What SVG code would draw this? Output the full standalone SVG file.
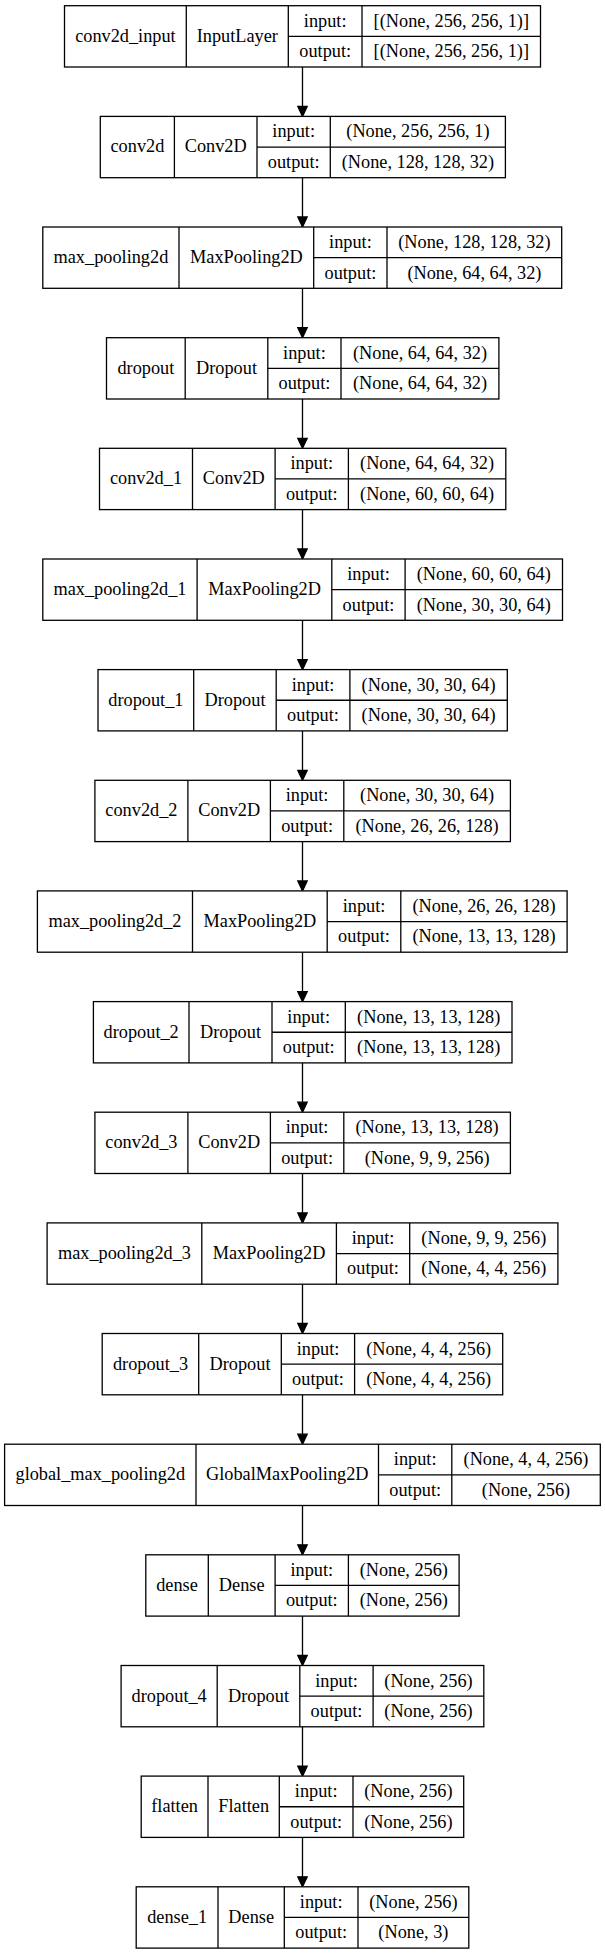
<svg xmlns="http://www.w3.org/2000/svg" width="605" height="1955" viewBox="0 0 605 1955">
<style>
rect.b{fill:#fff;stroke:#000;stroke-width:1.3}
line.d{stroke:#000;stroke-width:1.3}
text{font-family:"Liberation Serif","Times New Roman",serif;font-size:18.3px;fill:#000;text-anchor:middle}
.e line{stroke:#000;stroke-width:1.3}
.e polygon{fill:#000;stroke:#000;stroke-width:1.3}
</style>
<rect width="605" height="1955" fill="#fff"/>
<g id="connectors" class="e">
<line x1="302.5" y1="67" x2="302.5" y2="106.4"/><polygon points="302.5,116.4 297.8,106.4 307.2,106.4"/>
<line x1="302.5" y1="177.7" x2="302.5" y2="217"/><polygon points="302.5,227 297.8,217 307.2,217"/>
<line x1="302.5" y1="288.3" x2="302.5" y2="327.7"/><polygon points="302.5,337.7 297.8,327.7 307.2,327.7"/>
<line x1="302.5" y1="399" x2="302.5" y2="438.3"/><polygon points="302.5,448.3 297.8,438.3 307.2,438.3"/>
<line x1="302.5" y1="509.6" x2="302.5" y2="549"/><polygon points="302.5,559 297.8,549 307.2,549"/>
<line x1="302.5" y1="620.3" x2="302.5" y2="659.6"/><polygon points="302.5,669.6 297.8,659.6 307.2,659.6"/>
<line x1="302.5" y1="730.9" x2="302.5" y2="770.3"/><polygon points="302.5,780.3 297.8,770.3 307.2,770.3"/>
<line x1="302.5" y1="841.6" x2="302.5" y2="880.9"/><polygon points="302.5,890.9 297.8,880.9 307.2,880.9"/>
<line x1="302.5" y1="952.2" x2="302.5" y2="991.6"/><polygon points="302.5,1001.6 297.8,991.6 307.2,991.6"/>
<line x1="302.5" y1="1062.9" x2="302.5" y2="1102.2"/><polygon points="302.5,1112.2 297.8,1102.2 307.2,1102.2"/>
<line x1="302.5" y1="1173.5" x2="302.5" y2="1212.9"/><polygon points="302.5,1222.9 297.8,1212.9 307.2,1212.9"/>
<line x1="302.5" y1="1284.2" x2="302.5" y2="1323.5"/><polygon points="302.5,1333.5 297.8,1323.5 307.2,1323.5"/>
<line x1="302.5" y1="1394.8" x2="302.5" y2="1434.2"/><polygon points="302.5,1444.2 297.8,1434.2 307.2,1434.2"/>
<line x1="302.5" y1="1505.5" x2="302.5" y2="1544.8"/><polygon points="302.5,1554.8 297.8,1544.8 307.2,1544.8"/>
<line x1="302.5" y1="1616.1" x2="302.5" y2="1655.5"/><polygon points="302.5,1665.5 297.8,1655.5 307.2,1655.5"/>
<line x1="302.5" y1="1726.8" x2="302.5" y2="1766.1"/><polygon points="302.5,1776.1 297.8,1766.1 307.2,1766.1"/>
<line x1="302.5" y1="1837.4" x2="302.5" y2="1876.8"/><polygon points="302.5,1886.8 297.8,1876.8 307.2,1876.8"/>
</g>

<g id="conv2d_input" transform="translate(0,5.7)">
<rect class="b" x="64.5" y="0" width="476" height="61.3"/>
<line class="d" x1="186.3" y1="0" x2="186.3" y2="61.3"/><line class="d" x1="288.3" y1="0" x2="288.3" y2="61.3"/><line class="d" x1="362" y1="0" x2="362" y2="61.3"/><line class="d" x1="288.3" y1="30.65" x2="540.5" y2="30.65"/>
<text x="125.4" y="36">conv2d_input</text><text x="237.3" y="36">InputLayer</text>
<text x="325.2" y="21">input:</text><text x="325.2" y="51.6">output:</text>
<text x="451.3" y="21">[(None, 256, 256, 1)]</text><text x="451.3" y="51.6">[(None, 256, 256, 1)]</text>
</g>

<g id="conv2d" transform="translate(0,116.4)">
<rect class="b" x="100.3" y="0" width="405.1" height="61.3"/>
<line class="d" x1="174.4" y1="0" x2="174.4" y2="61.3"/><line class="d" x1="257" y1="0" x2="257" y2="61.3"/><line class="d" x1="330.3" y1="0" x2="330.3" y2="61.3"/><line class="d" x1="257" y1="30.65" x2="505.4" y2="30.65"/>
<text x="137.4" y="36">conv2d</text><text x="215.7" y="36">Conv2D</text>
<text x="293.7" y="21">input:</text><text x="293.7" y="51.6">output:</text>
<text x="417.9" y="21">(None, 256, 256, 1)</text><text x="417.9" y="51.6">(None, 128, 128, 32)</text>
</g>

<g id="max_pooling2d" transform="translate(0,227)">
<rect class="b" x="42.8" y="0" width="518.9" height="61.3"/>
<line class="d" x1="179" y1="0" x2="179" y2="61.3"/><line class="d" x1="313.7" y1="0" x2="313.7" y2="61.3"/><line class="d" x1="387" y1="0" x2="387" y2="61.3"/><line class="d" x1="313.7" y1="30.65" x2="561.7" y2="30.65"/>
<text x="110.9" y="36">max_pooling2d</text><text x="246.4" y="36">MaxPooling2D</text>
<text x="350.4" y="21">input:</text><text x="350.4" y="51.6">output:</text>
<text x="474.4" y="21">(None, 128, 128, 32)</text><text x="474.4" y="51.6">(None, 64, 64, 32)</text>
</g>

<g id="dropout" transform="translate(0,337.7)">
<rect class="b" x="106.5" y="0" width="392.4" height="61.3"/>
<line class="d" x1="185.2" y1="0" x2="185.2" y2="61.3"/><line class="d" x1="267.8" y1="0" x2="267.8" y2="61.3"/><line class="d" x1="341" y1="0" x2="341" y2="61.3"/><line class="d" x1="267.8" y1="30.65" x2="498.9" y2="30.65"/>
<text x="145.9" y="36">dropout</text><text x="226.5" y="36">Dropout</text>
<text x="304.4" y="21">input:</text><text x="304.4" y="51.6">output:</text>
<text x="420" y="21">(None, 64, 64, 32)</text><text x="420" y="51.6">(None, 64, 64, 32)</text>
</g>

<g id="conv2d_1" transform="translate(0,448.3)">
<rect class="b" x="99.5" y="0" width="406.3" height="61.3"/>
<line class="d" x1="192.5" y1="0" x2="192.5" y2="61.3"/><line class="d" x1="275.1" y1="0" x2="275.1" y2="61.3"/><line class="d" x1="348.4" y1="0" x2="348.4" y2="61.3"/><line class="d" x1="275.1" y1="30.65" x2="505.8" y2="30.65"/>
<text x="146" y="36">conv2d_1</text><text x="233.8" y="36">Conv2D</text>
<text x="311.8" y="21">input:</text><text x="311.8" y="51.6">output:</text>
<text x="427.1" y="21">(None, 64, 64, 32)</text><text x="427.1" y="51.6">(None, 60, 60, 64)</text>
</g>

<g id="max_pooling2d_1" transform="translate(0,559)">
<rect class="b" x="42.8" y="0" width="519.7" height="61.3"/>
<line class="d" x1="197.1" y1="0" x2="197.1" y2="61.3"/><line class="d" x1="331.8" y1="0" x2="331.8" y2="61.3"/><line class="d" x1="405.1" y1="0" x2="405.1" y2="61.3"/><line class="d" x1="331.8" y1="30.65" x2="562.5" y2="30.65"/>
<text x="120" y="36">max_pooling2d_1</text><text x="264.5" y="36">MaxPooling2D</text>
<text x="368.5" y="21">input:</text><text x="368.5" y="51.6">output:</text>
<text x="483.8" y="21">(None, 60, 60, 64)</text><text x="483.8" y="51.6">(None, 30, 30, 64)</text>
</g>

<g id="dropout_1" transform="translate(0,669.6)">
<rect class="b" x="98" y="0" width="409.3" height="61.3"/>
<line class="d" x1="193.7" y1="0" x2="193.7" y2="61.3"/><line class="d" x1="276.2" y1="0" x2="276.2" y2="61.3"/><line class="d" x1="349.9" y1="0" x2="349.9" y2="61.3"/><line class="d" x1="276.2" y1="30.65" x2="507.3" y2="30.65"/>
<text x="145.9" y="36">dropout_1</text><text x="235" y="36">Dropout</text>
<text x="313" y="21">input:</text><text x="313" y="51.6">output:</text>
<text x="428.6" y="21">(None, 30, 30, 64)</text><text x="428.6" y="51.6">(None, 30, 30, 64)</text>
</g>

<g id="conv2d_2" transform="translate(0,780.3)">
<rect class="b" x="94.9" y="0" width="415.5" height="61.3"/>
<line class="d" x1="187.9" y1="0" x2="187.9" y2="61.3"/><line class="d" x1="270.4" y1="0" x2="270.4" y2="61.3"/><line class="d" x1="343.8" y1="0" x2="343.8" y2="61.3"/><line class="d" x1="270.4" y1="30.65" x2="510.4" y2="30.65"/>
<text x="141.4" y="36">conv2d_2</text><text x="229.2" y="36">Conv2D</text>
<text x="307.1" y="21">input:</text><text x="307.1" y="51.6">output:</text>
<text x="427.1" y="21">(None, 30, 30, 64)</text><text x="427.1" y="51.6">(None, 26, 26, 128)</text>
</g>

<g id="max_pooling2d_2" transform="translate(0,890.9)">
<rect class="b" x="37.4" y="0" width="529.7" height="61.3"/>
<line class="d" x1="192.5" y1="0" x2="192.5" y2="61.3"/><line class="d" x1="327.2" y1="0" x2="327.2" y2="61.3"/><line class="d" x1="400.8" y1="0" x2="400.8" y2="61.3"/><line class="d" x1="327.2" y1="30.65" x2="567.1" y2="30.65"/>
<text x="115" y="36">max_pooling2d_2</text><text x="259.9" y="36">MaxPooling2D</text>
<text x="364" y="21">input:</text><text x="364" y="51.6">output:</text>
<text x="484" y="21">(None, 26, 26, 128)</text><text x="484" y="51.6">(None, 13, 13, 128)</text>
</g>

<g id="dropout_2" transform="translate(0,1001.6)">
<rect class="b" x="93.4" y="0" width="418.6" height="61.3"/>
<line class="d" x1="189" y1="0" x2="189" y2="61.3"/><line class="d" x1="272" y1="0" x2="272" y2="61.3"/><line class="d" x1="345.3" y1="0" x2="345.3" y2="61.3"/><line class="d" x1="272" y1="30.65" x2="512" y2="30.65"/>
<text x="141.2" y="36">dropout_2</text><text x="230.5" y="36">Dropout</text>
<text x="308.7" y="21">input:</text><text x="308.7" y="51.6">output:</text>
<text x="428.7" y="21">(None, 13, 13, 128)</text><text x="428.7" y="51.6">(None, 13, 13, 128)</text>
</g>

<g id="conv2d_3" transform="translate(0,1112.2)">
<rect class="b" x="94.9" y="0" width="415.5" height="61.3"/>
<line class="d" x1="187.9" y1="0" x2="187.9" y2="61.3"/><line class="d" x1="270.4" y1="0" x2="270.4" y2="61.3"/><line class="d" x1="343.8" y1="0" x2="343.8" y2="61.3"/><line class="d" x1="270.4" y1="30.65" x2="510.4" y2="30.65"/>
<text x="141.4" y="36">conv2d_3</text><text x="229.2" y="36">Conv2D</text>
<text x="307.1" y="21">input:</text><text x="307.1" y="51.6">output:</text>
<text x="427.1" y="21">(None, 13, 13, 128)</text><text x="427.1" y="51.6">(None, 9, 9, 256)</text>
</g>

<g id="max_pooling2d_3" transform="translate(0,1222.9)">
<rect class="b" x="47.1" y="0" width="510.8" height="61.3"/>
<line class="d" x1="201.8" y1="0" x2="201.8" y2="61.3"/><line class="d" x1="336.4" y1="0" x2="336.4" y2="61.3"/><line class="d" x1="409.7" y1="0" x2="409.7" y2="61.3"/><line class="d" x1="336.4" y1="30.65" x2="557.9" y2="30.65"/>
<text x="124.5" y="36">max_pooling2d_3</text><text x="269.1" y="36">MaxPooling2D</text>
<text x="373" y="21">input:</text><text x="373" y="51.6">output:</text>
<text x="483.8" y="21">(None, 9, 9, 256)</text><text x="483.8" y="51.6">(None, 4, 4, 256)</text>
</g>

<g id="dropout_3" transform="translate(0,1333.5)">
<rect class="b" x="102.2" y="0" width="400.5" height="61.3"/>
<line class="d" x1="198.7" y1="0" x2="198.7" y2="61.3"/><line class="d" x1="281.3" y1="0" x2="281.3" y2="61.3"/><line class="d" x1="354.6" y1="0" x2="354.6" y2="61.3"/><line class="d" x1="281.3" y1="30.65" x2="502.7" y2="30.65"/>
<text x="150.5" y="36">dropout_3</text><text x="240" y="36">Dropout</text>
<text x="318" y="21">input:</text><text x="318" y="51.6">output:</text>
<text x="428.7" y="21">(None, 4, 4, 256)</text><text x="428.7" y="51.6">(None, 4, 4, 256)</text>
</g>

<g id="global_max_pooling2d" transform="translate(0,1444.2)">
<rect class="b" x="4.6" y="0" width="595.7" height="61.3"/>
<line class="d" x1="196" y1="0" x2="196" y2="61.3"/><line class="d" x1="378.5" y1="0" x2="378.5" y2="61.3"/><line class="d" x1="451.8" y1="0" x2="451.8" y2="61.3"/><line class="d" x1="378.5" y1="30.65" x2="600.3" y2="30.65"/>
<text x="100.3" y="36">global_max_pooling2d</text><text x="287.3" y="36">GlobalMaxPooling2D</text>
<text x="415.2" y="21">input:</text><text x="415.2" y="51.6">output:</text>
<text x="526" y="21">(None, 4, 4, 256)</text><text x="526" y="51.6">(None, 256)</text>
</g>

<g id="dense" transform="translate(0,1554.8)">
<rect class="b" x="145.8" y="0" width="313.3" height="61.3"/>
<line class="d" x1="208.3" y1="0" x2="208.3" y2="61.3"/><line class="d" x1="275.1" y1="0" x2="275.1" y2="61.3"/><line class="d" x1="348.4" y1="0" x2="348.4" y2="61.3"/><line class="d" x1="275.1" y1="30.65" x2="459.1" y2="30.65"/>
<text x="177" y="36">dense</text><text x="241.7" y="36">Dense</text>
<text x="311.8" y="21">input:</text><text x="311.8" y="51.6">output:</text>
<text x="403.8" y="21">(None, 256)</text><text x="403.8" y="51.6">(None, 256)</text>
</g>

<g id="dropout_4" transform="translate(0,1665.5)">
<rect class="b" x="121.1" y="0" width="362.7" height="61.3"/>
<line class="d" x1="217.2" y1="0" x2="217.2" y2="61.3"/><line class="d" x1="299.8" y1="0" x2="299.8" y2="61.3"/><line class="d" x1="373.1" y1="0" x2="373.1" y2="61.3"/><line class="d" x1="299.8" y1="30.65" x2="483.8" y2="30.65"/>
<text x="169.2" y="36">dropout_4</text><text x="258.5" y="36">Dropout</text>
<text x="336.5" y="21">input:</text><text x="336.5" y="51.6">output:</text>
<text x="428.5" y="21">(None, 256)</text><text x="428.5" y="51.6">(None, 256)</text>
</g>

<g id="flatten" transform="translate(0,1776.1)">
<rect class="b" x="141.2" y="0" width="322.5" height="61.3"/>
<line class="d" x1="208" y1="0" x2="208" y2="61.3"/><line class="d" x1="279.3" y1="0" x2="279.3" y2="61.3"/><line class="d" x1="353" y1="0" x2="353" y2="61.3"/><line class="d" x1="279.3" y1="30.65" x2="463.7" y2="30.65"/>
<text x="174.6" y="36">flatten</text><text x="243.7" y="36">Flatten</text>
<text x="316.2" y="21">input:</text><text x="316.2" y="51.6">output:</text>
<text x="408.4" y="21">(None, 256)</text><text x="408.4" y="51.6">(None, 256)</text>
</g>

<g id="dense_1" transform="translate(0,1886.8)">
<rect class="b" x="136.2" y="0" width="332.6" height="61.3"/>
<line class="d" x1="218" y1="0" x2="218" y2="61.3"/><line class="d" x1="284.3" y1="0" x2="284.3" y2="61.3"/><line class="d" x1="358" y1="0" x2="358" y2="61.3"/><line class="d" x1="284.3" y1="30.65" x2="468.8" y2="30.65"/>
<text x="177.1" y="36">dense_1</text><text x="251.2" y="36">Dense</text>
<text x="321.2" y="21">input:</text><text x="321.2" y="51.6">output:</text>
<text x="413.4" y="21">(None, 256)</text><text x="413.4" y="51.6">(None, 3)</text>
</g>
</svg>
